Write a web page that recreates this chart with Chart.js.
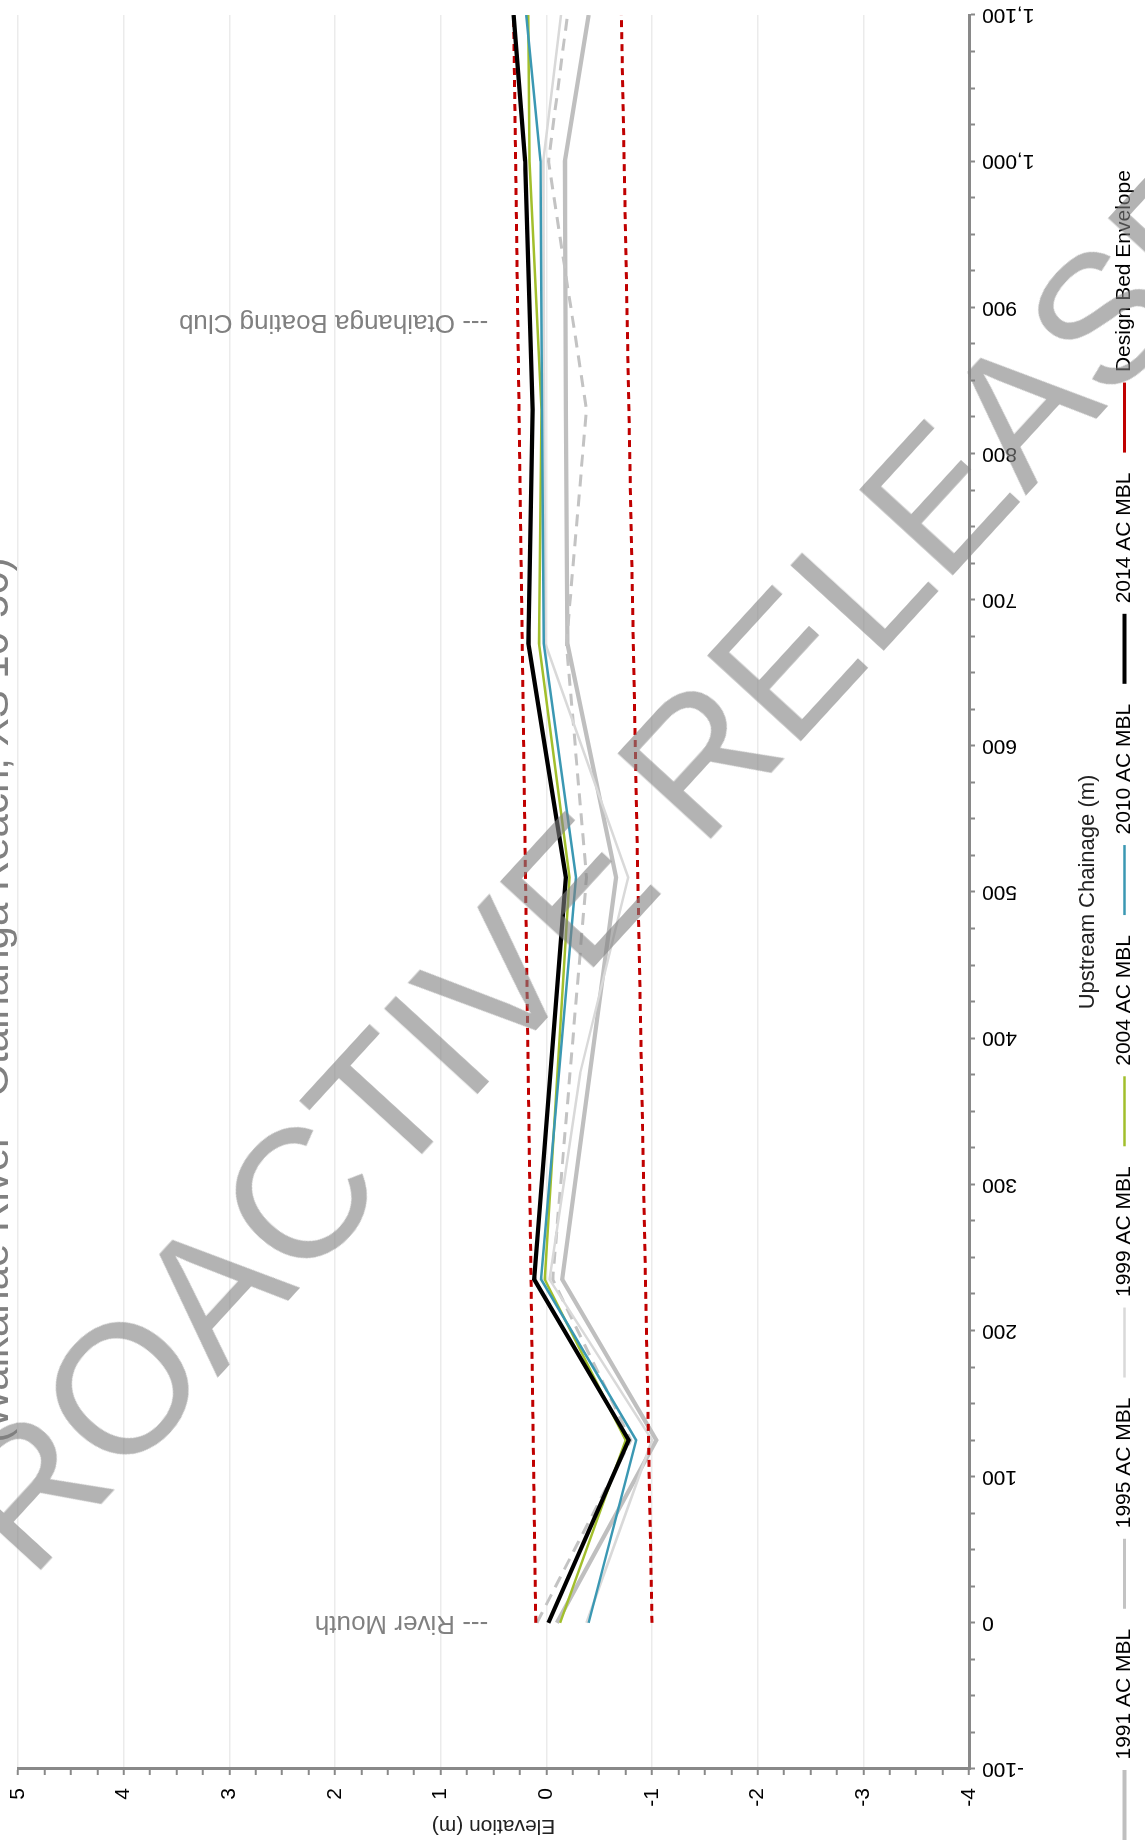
<!DOCTYPE html>
<html>
<head>
<meta charset="utf-8">
<script src="https://cdn.jsdelivr.net/npm/chart.js@4.4.1/dist/chart.umd.min.js"></script>
<style>
html, body { margin:0; padding:0; background:#fff; }
body { width:1145px; height:1843px; position:relative; overflow:hidden; font-family:"Liberation Sans", Arial, sans-serif; }
#turn { position:absolute; left:0; top:0; width:1843px; height:1145px; transform-origin:0 0; transform:translate(0,1843px) rotate(-90deg); }
#stamp { position:absolute; left:564px; top:905px; transform:translate(-50%,-50%) rotate(-47.5deg); font-size:184px; line-height:1; color:rgba(128,128,128,0.6); white-space:nowrap; pointer-events:none; }
</style>
</head>
<body>
<div id="turn"><canvas id="profile" width="1843" height="1145"></canvas></div>
<div id="stamp">PROACTIVE RELEASE</div>
<script>

// chainage of each surveyed cross section (m)
var chainage     = [0, 125, 235, 510, 670, 830, 1000, 1100];
var chainage1999 = [0, 125, 235, 376, 510, 670, 830, 1000, 1100];

// mean bed levels (m)
var mbl1991 = [-0.10, -1.04, -0.15, -0.66, -0.20, -0.185, -0.175, -0.40];
var mbl1995 = [ 0.09, -0.80, -0.06, -0.38, -0.19, -0.38, -0.02, -0.20];
var mbl1999 = [-0.38, -1.00, -0.03, -0.32, -0.775, 0.01, 0.02, 0.03, -0.14];
var mbl2004 = [-0.13, -0.75, 0.015, -0.22, 0.07, 0.045, 0.16, 0.17];
var mbl2010 = [-0.40, -0.85, 0.05, -0.28, 0.025, 0.04, 0.055, 0.19];
var mbl2014 = [-0.02, -0.78, 0.115, -0.185, 0.17, 0.13, 0.20, 0.31];

var envelopeChainage = [0, 1100];
var envelopeTop      = [0.10, 0.31];
var envelopeBottom   = [-1.00, -0.71];

var seriesNames = ["1991 AC MBL", "1995 AC MBL", "1999 AC MBL", "2004 AC MBL", "2010 AC MBL", "2014 AC MBL", "Design Bed Envelope"];

var noteChainage = [0, 890];
var noteText     = ["--- River Mouth", "--- Otaihanga Boating Club"];
var noteLevel    = 0.55;

var chartTitle = "(Waikanae River - Otaihanga Reach, XS 10-50)";

var FONT = '"Liberation Sans", Arial, sans-serif';

function pts(xs, ys){
	return xs.map(function(x, i){ return {x: x, y: ys[i]}; });
}

function series(label, xs, ys, colour, width, dash, order){
	return {
		label: label,
		data: pts(xs, ys),
		borderColor: colour,
		backgroundColor: colour,
		borderWidth: width,
		borderDash: dash,
		pointRadius: 0,
		pointHoverRadius: 0,
		tension: 0,
		fill: false,
		order: order
	};
}

var notesPlugin = {
	id: 'notes',
	afterDraw: function(chart){
		var ctx = chart.ctx;
		var xs = chart.scales.x, ys = chart.scales.y;
		ctx.save();
		ctx.fillStyle = '#808080';
		ctx.font = '26px ' + FONT;
		ctx.textAlign = 'left';
		ctx.textBaseline = 'middle';
		noteChainage.forEach(function(c, i){
			ctx.save();
			ctx.translate(xs.getPixelForValue(c), ys.getPixelForValue(noteLevel));
			ctx.rotate(-Math.PI / 2);
			ctx.fillText(noteText[i], 0, 0);
			ctx.restore();
		});
		// title sits mostly above the sheet edge
		ctx.font = '42px ' + FONT;
		ctx.textAlign = 'center';
		ctx.textBaseline = 'alphabetic';
		ctx.fillText(chartTitle, 843, 8);
		ctx.restore();
	}
};

var legendShift = {
	id: 'legendShift',
	afterLayout: function(chart){
		var lg = chart.legend;
		var dx = 3 - (lg.left + lg.options.labels.padding);
		lg.left += dx;
		lg.right += dx;
	}
};

function noEdgePadding(s){
	s.paddingTop = 0;
	s.paddingBottom = 0;
	s.paddingLeft = 0;
	s.paddingRight = 0;
}

var ctx = document.getElementById('profile');

new Chart(ctx, {
	type: 'line',
	data: {
		datasets: [
			series(seriesNames[0], chainage, mbl1991, '#bfbfbf', 4.2, [], 6),
			series(seriesNames[1], chainage, mbl1995, '#c3c3c3', 3, [12, 8], 5),
			series(seriesNames[2], chainage1999, mbl1999, '#d9d9d9', 2.5, [], 4),
			series(seriesNames[3], chainage, mbl2004, '#a2bf2c', 2.5, [], 2),
			series(seriesNames[4], chainage, mbl2010, '#3b98b3', 2.5, [], 1),
			series(seriesNames[5], chainage, mbl2014, '#000000', 4.2, [], 0),
			series(seriesNames[6], envelopeChainage, envelopeTop, '#c00000', 3, [7, 5], 3),
			series(seriesNames[6], envelopeChainage, envelopeBottom, '#c00000', 3, [7, 5], 3)
		]
	},
	options: {
		responsive: false,
		animation: false,
		devicePixelRatio: 1,
		layout: { padding: { top: 18, right: 15, left: 0, bottom: 0 } },
		scales: {
			x: {
				type: 'linear',
				position: 'bottom',
				min: -100,
				max: 1100,
				afterFit: function(s){ s.height = 125; noEdgePadding(s); },
				border: { color: '#898989', width: 3 },
				grid: { drawOnChartArea: false, drawTicks: true, tickLength: 6, tickWidth: 2, tickColor: '#898989' },
				ticks: {
					stepSize: 25,
					autoSkip: false,
					minRotation: 90,
					maxRotation: 90,
					padding: 7,
					color: '#000',
					font: { family: FONT, size: 21 },
					callback: function(v){ return v % 100 === 0 ? v.toLocaleString('en-US') : ''; }
				},
				title: {
					display: true,
					text: 'Upstream Chainage (m)',
					color: '#222',
					font: { family: FONT, size: 22 },
					padding: { top: 0, bottom: -7 }
				}
			},
			y: {
				type: 'linear',
				position: 'left',
				min: -4,
				max: 5,
				afterFit: function(s){ s.width = 74; noEdgePadding(s); },
				border: { color: '#898989', width: 3 },
				grid: {
					lineWidth: 1.5,
					color: function(c){ return Number.isInteger(c.tick.value) ? '#ebebeb' : 'rgba(0,0,0,0)'; },
					drawTicks: true,
					tickLength: 6,
					tickWidth: 2,
					tickColor: '#898989'
				},
				ticks: {
					stepSize: 0.25,
					autoSkip: false,
					padding: 13,
					color: '#000',
					font: { family: FONT, size: 21 },
					callback: function(v){ return Number.isInteger(v) ? String(v) : ''; }
				},
				title: {
					display: true,
					text: 'Elevation (m)',
					color: '#222',
					font: { family: FONT, size: 21 },
					padding: { top: 4.4, bottom: 0 }
				}
			}
		},
		plugins: {
			tooltip: { enabled: false },
			legend: {
				position: 'bottom',
				align: 'start',
				labels: {
					usePointStyle: true,
					pointStyle: 'line',
					pointStyleWidth: 70,
					boxWidth: 70,
					padding: 20,
					color: '#000',
					font: { family: FONT, size: 21 },
					sort: function(a, b){ return a.datasetIndex - b.datasetIndex; },
					filter: function(item){ return item.datasetIndex !== 7; }
				}
			}
		}
	},
	plugins: [notesPlugin, legendShift]
});

</script>
</body>
</html>
